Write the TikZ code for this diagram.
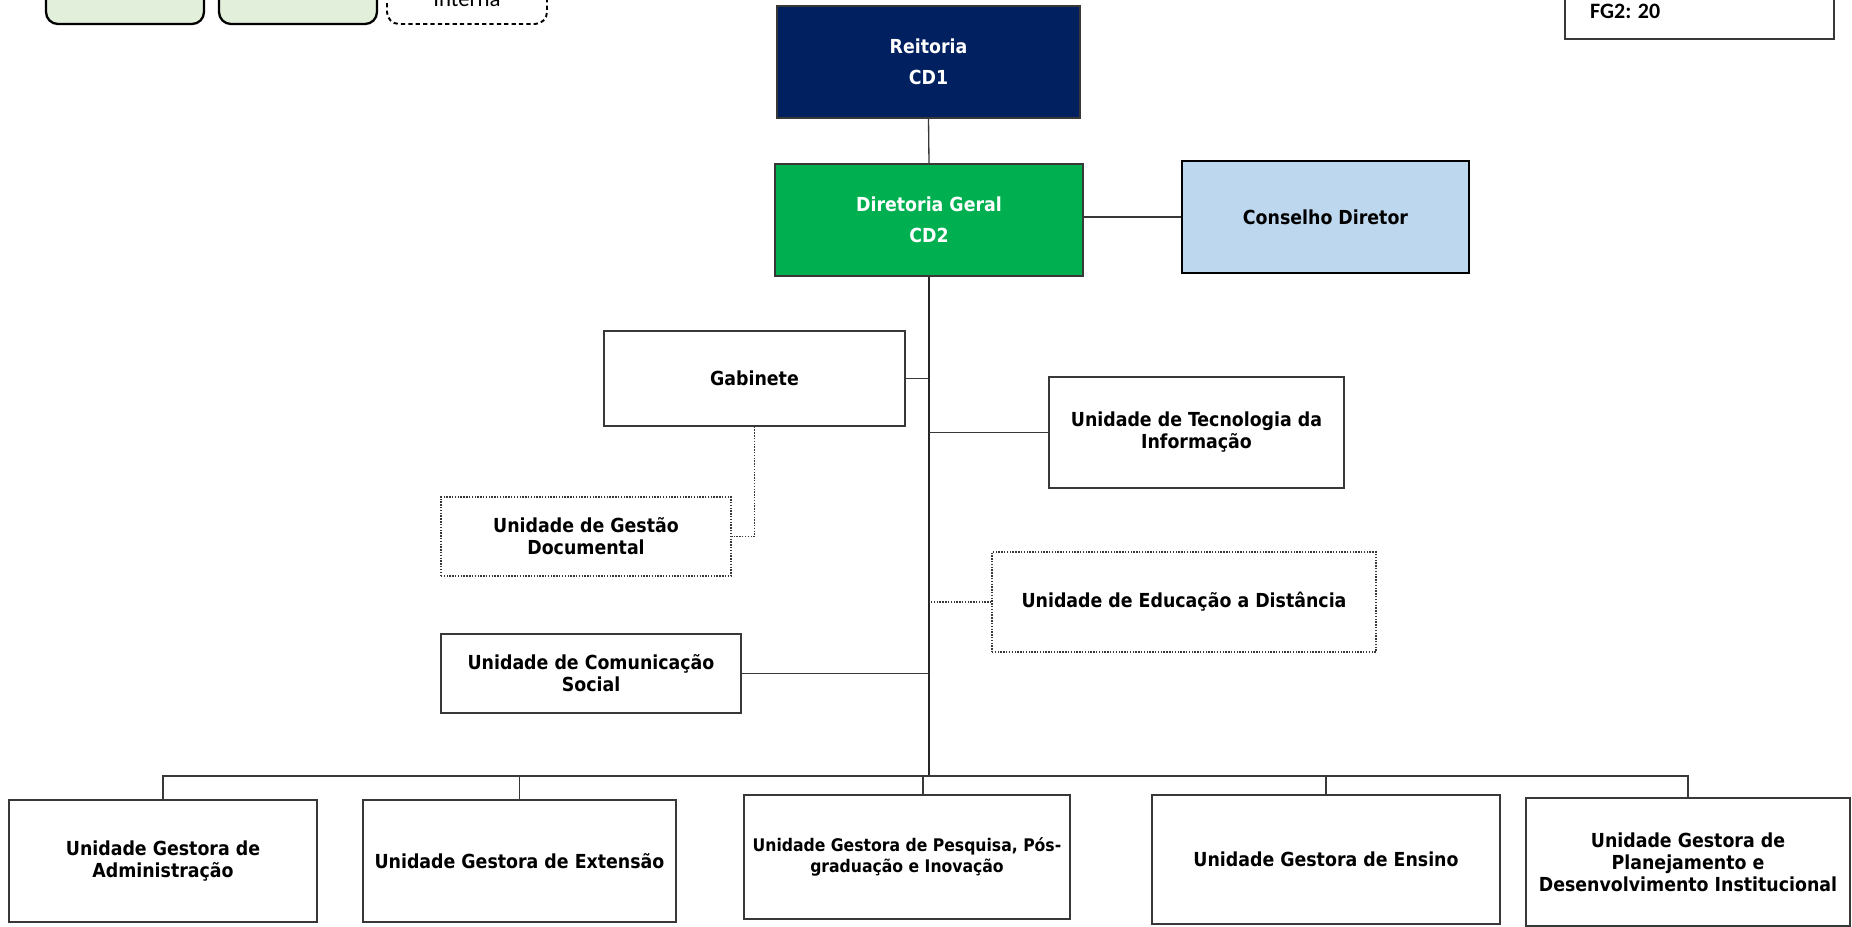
\documentclass[tikz,border=0pt]{standalone}
\usepackage{fontspec}
\setmainfont{DejaVu Sans}
\newfontfamily\unitfont{DejaVu Sans Condensed}
\newfontfamily\notefont{Carlito}
\usetikzlibrary{positioning}
\definecolor{reitoriablue}{HTML}{002060}
\definecolor{diretoriagreen}{HTML}{00B050}
\definecolor{conselhoblue}{HTML}{BDD7EE}
\definecolor{legendgreen}{HTML}{E2EFDA}
\definecolor{linegray}{HTML}{383838}
\tikzset{
  boxsize/.style 2 args={minimum width=#1*0.02cm, minimum height=#2*0.02cm},
  unit/.style={draw=linegray, line width=0.75pt, align=center, inner sep=2pt,
    font=\unitfont\bfseries\fontsize{11}{12.5}\selectfont},
  unitdotted/.style={unit, line width=0.6pt, dash pattern=on 0.8pt off 0.8pt},
  link/.style={draw=linegray, line width=0.75pt},
  linkdotted/.style={link, line width=0.6pt, dash pattern=on 0.8pt off 0.8pt},
  trunk/.style={draw=black!85, line width=1.2pt},
  legendbox/.style={draw=black, line width=1.3pt, rounded corners=0.24cm, fill=legendgreen}
}

\begin{document}
\begin{tikzpicture}[x=0.02cm, y=-0.02cm]
        % Page frame (the chart is cut at the top edge)
        \useasboundingbox (0,0) rectangle (1852,926);
        \clip (0,0) rectangle (1852,926);
        % Legend, only its lower part is visible
        \node[legendbox, boxsize={158}{70}] (legA) at (125,-11) {};
        \node[legendbox, boxsize={158}{70}] (legB) at (298,-11) {};
        \node[legendbox, fill=white, line width=1.1pt, dash pattern=on 2.4pt off 1.8pt, boxsize={160}{70}] (legC) at (467,-11) {};
        \node[anchor=base, font=\notefont\fontsize{13}{15}\selectfont] (interna) at (467,7) {Interna};
        % Function count box (top right)
        \node[draw=linegray, line width=0.75pt, boxsize={269}{80}] (cargos) at (1699.5,-1) {};
        \node[anchor=base west, font=\notefont\bfseries\fontsize{12.5}{14}\selectfont] (fg) at (1584,19) {FG2: 20};
        % Top of the chart
        \node[unit, fill=reitoriablue, text=white, boxsize={303}{112}] (reitoria) at (928.5,62) {Reitoria\\[5pt]CD1};
        \node[unit, fill=diretoriagreen, text=white, boxsize={308}{112}] (diretoria) at (929,220) {Diretoria Geral\\[5pt]CD2};
        \node[unit, fill=conselhoblue, draw=black, line width=1.6pt, boxsize={287}{112}] (conselho) at (1325.5,217) {Conselho Diretor};
        % Units tied to the Diretoria Geral
        \node[unit, boxsize={301}{95}] (gabinete) at (754.5,378.5) {Gabinete};
        \node[unit, boxsize={295}{111}] (tecnologia) at (1196.5,432.5) {Unidade de Tecnologia da\\Informação};
        \node[unitdotted, boxsize={290}{79}] (gestaodoc) at (586,536.5) {Unidade de Gestão\\Documental};
        \node[unitdotted, boxsize={384}{100}] (educacao) at (1184,602) {Unidade de Educação a Distância};
        \node[unit, boxsize={300}{79}] (comunicacao) at (591,673.5) {Unidade de Comunicação\\Social};
        % Managing units along the bottom
        \node[unit, boxsize={308}{122}] (administracao) at (163,861) {Unidade Gestora de\\Administração};
        \node[unit, boxsize={313}{122}] (extensao) at (519.5,861) {Unidade Gestora de Extensão};
        \node[unit, font=\unitfont\bfseries\fontsize{9.9}{12}\selectfont, boxsize={326}{124}] (pesquisa) at (907,857) {Unidade Gestora de Pesquisa, Pós-\\graduação e Inovação};
        \node[unit, boxsize={348}{129}] (ensino) at (1326,859.5) {Unidade Gestora de Ensino};
        \node[unit, boxsize={324}{128}] (planejamento) at (1688,862) {Unidade Gestora de\\Planejamento e\\Desenvolvimento Institucional};
        % Connectors
        \coordinate (bus) at (929,776);
        \draw[link] (reitoria.south) -- (diretoria.north);
        \draw[link] (conselho.west) -- (conselho.west -| diretoria.east);
        \draw[trunk] (diretoria.south) -- (bus);
        \draw[link] (gabinete.east) -- (gabinete.east -| bus);
        \draw[link] (tecnologia.west) -- (tecnologia.west -| bus);
        \draw[link] (comunicacao.east) -- (comunicacao.east -| bus);
        \draw[linkdotted] (educacao.west) -- (educacao.west -| bus);
        \draw[linkdotted] (gabinete.south) |- (gestaodoc.east);
        \foreach \u in {administracao,extensao,ensino,planejamento}
          \draw[link] (bus) -| (\u.north);
        \draw[link] (bus) -| ([xshift=0.32cm]pesquisa.north);
      \end{tikzpicture}
\end{document}
